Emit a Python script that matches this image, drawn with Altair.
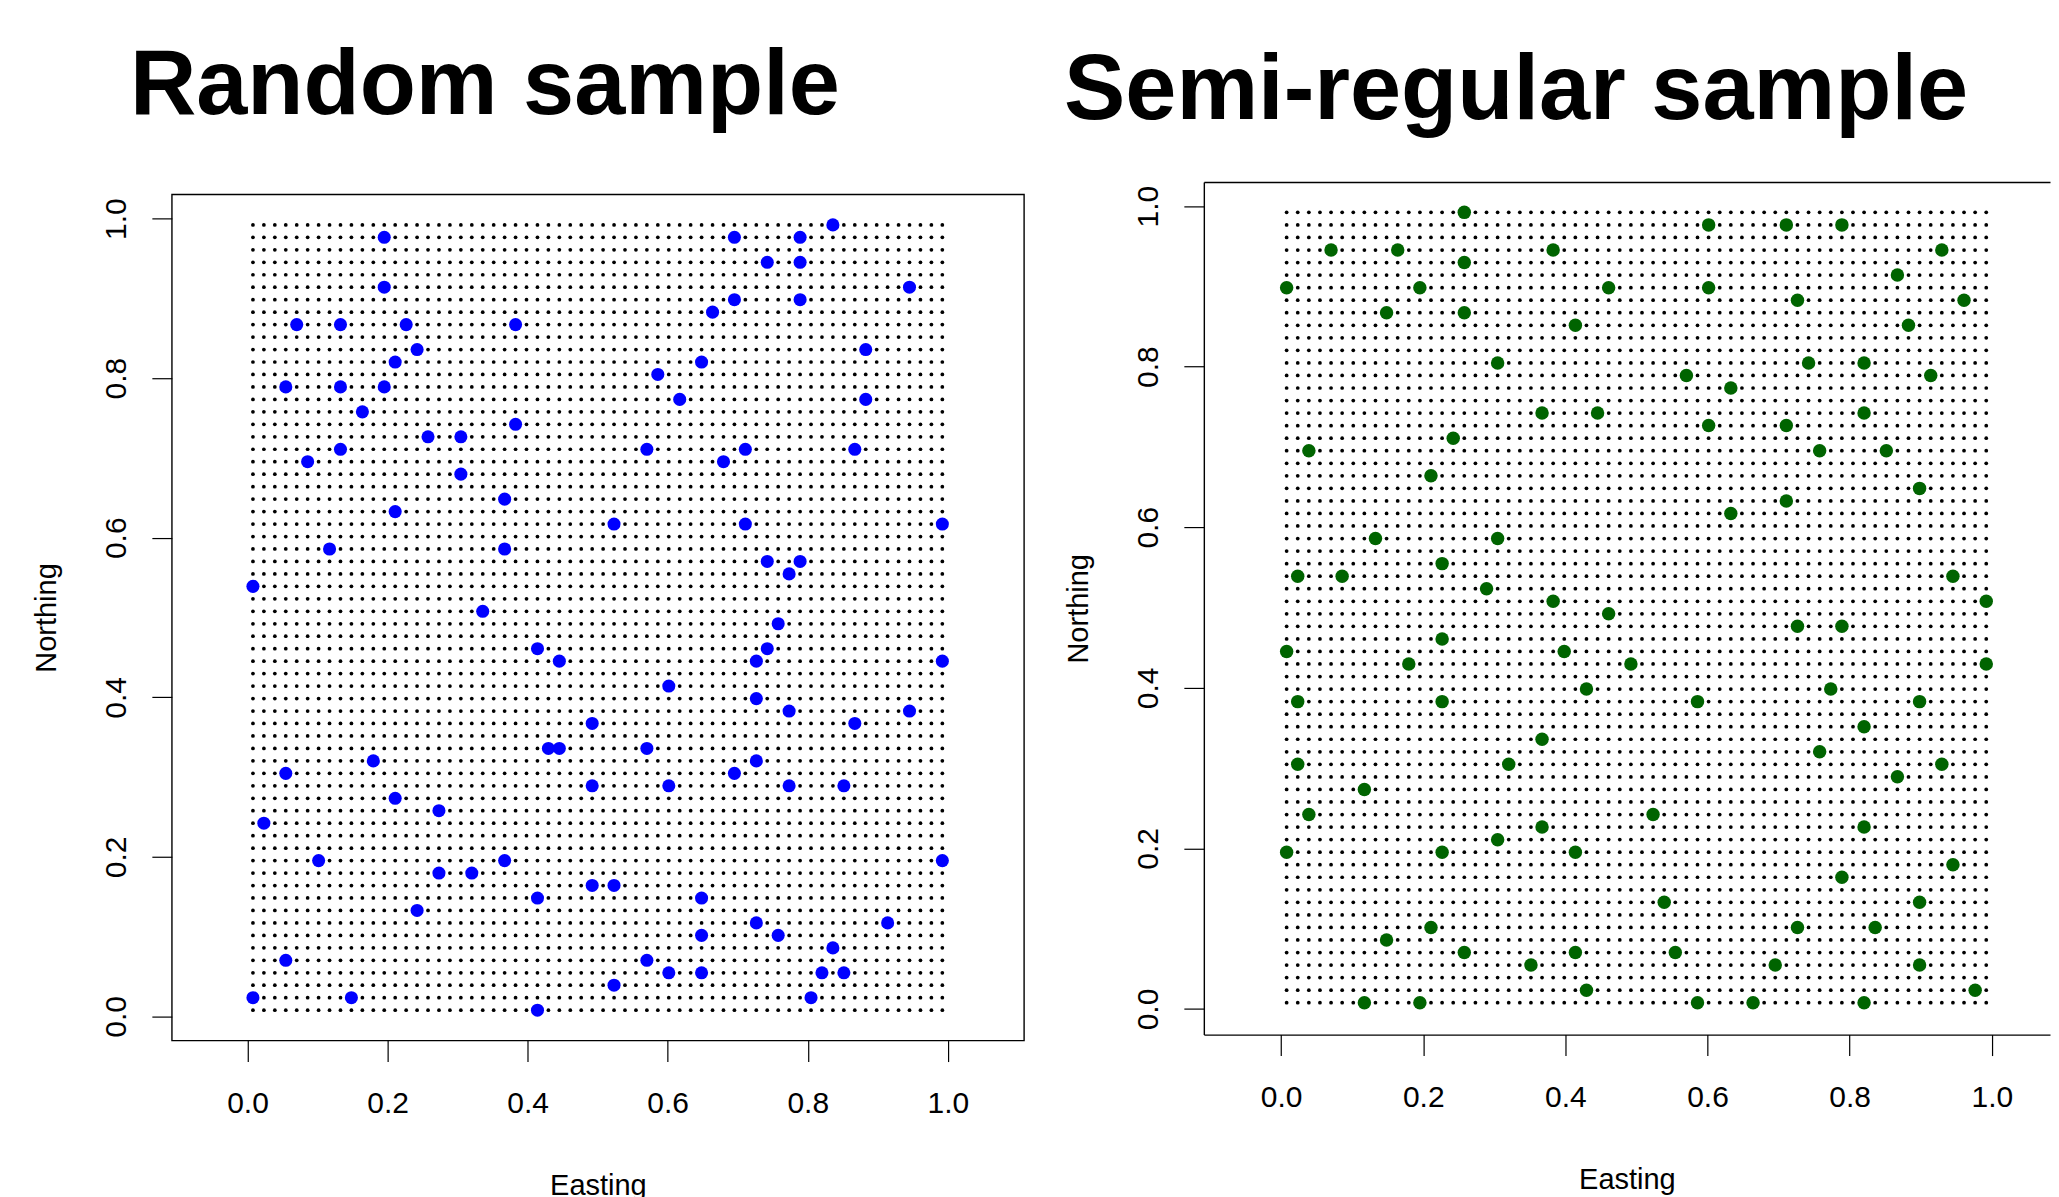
import altair as alt
import numpy as np
import pandas as pd

FONT = "Liberation Sans"

# regular 64 x 64 lattice of cell centres (the candidate population)
GRID_N = 64
grid_centres = (np.arange(GRID_N) + 0.5) / GRID_N

tick_values = [0.0, 0.2, 0.4, 0.6, 0.8, 1.0]

# random sample (blue)
rand_x = [0.1953, 0.1953, 0.0703, 0.1328, 0.2266, 0.3828, 0.2422, 0.2109, 0.5859, 0.0547,
          0.1328, 0.1953, 0.1641, 0.3828, 0.2578, 0.3047, 0.1328, 0.5703, 0.0859, 0.3047,
          0.3672, 0.2109, 0.5234, 0.1172, 0.3672, 0.0078, 0.8359, 0.6953, 0.7891, 0.7422,
          0.7891, 0.9453, 0.6953, 0.7891, 0.6641, 0.8828, 0.6484, 0.6172, 0.8828, 0.7109,
          0.6797, 0.8672, 0.7109, 0.9922, 0.7422, 0.7891, 0.7734, 0.3359, 0.4141, 0.4453,
          0.4922, 0.4297, 0.4453, 0.5703, 0.1797, 0.0547, 0.4922, 0.2109, 0.2734, 0.0234,
          0.1016, 0.2734, 0.3203, 0.3672, 0.4922, 0.5234, 0.4141, 0.2422, 0.0547, 0.5703,
          0.5234, 0.0078, 0.1484, 0.4141, 0.7578, 0.7422, 0.7266, 0.9922, 0.6016, 0.7266,
          0.7734, 0.9453, 0.8672, 0.7266, 0.6953, 0.6016, 0.7734, 0.8516, 0.9922, 0.6484,
          0.7266, 0.9141, 0.6484, 0.7578, 0.8359, 0.6016, 0.6484, 0.8203, 0.8516, 0.8047]
rand_y = [0.9766, 0.9141, 0.8672, 0.8672, 0.8672, 0.8672, 0.8359, 0.8203, 0.8047, 0.7891,
          0.7891, 0.7891, 0.7578, 0.7422, 0.7266, 0.7266, 0.7109, 0.7109, 0.6953, 0.6797,
          0.6484, 0.6328, 0.6172, 0.5859, 0.5859, 0.5391, 0.9922, 0.9766, 0.9766, 0.9453,
          0.9453, 0.9141, 0.8984, 0.8984, 0.8828, 0.8359, 0.8203, 0.7734, 0.7734, 0.7109,
          0.6953, 0.7109, 0.6172, 0.6172, 0.5703, 0.5703, 0.5547, 0.5078, 0.4609, 0.4453,
          0.3672, 0.3359, 0.3359, 0.3359, 0.3203, 0.3047, 0.2891, 0.2734, 0.2578, 0.2422,
          0.1953, 0.1797, 0.1797, 0.1953, 0.1641, 0.1641, 0.1484, 0.1328, 0.0703, 0.0703,
          0.0391, 0.0234, 0.0234, 0.0078, 0.4922, 0.4609, 0.4453, 0.4453, 0.4141, 0.3984,
          0.3828, 0.3828, 0.3672, 0.3203, 0.3047, 0.2891, 0.2891, 0.2891, 0.1953, 0.1484,
          0.1172, 0.1172, 0.1016, 0.1016, 0.0859, 0.0547, 0.0547, 0.0547, 0.0547, 0.0234]

# semi-regular sample (green)
semi_x = [0.2578, 0.6016, 0.0703, 0.1641, 0.3828, 0.2578, 0.0078, 0.1953, 0.4609, 0.6016,
          0.1484, 0.2578, 0.4141, 0.3047, 0.5703, 0.6328, 0.3672, 0.4453, 0.6016, 0.2422,
          0.0391, 0.2109, 0.6328, 0.1328, 0.3047, 0.2266, 0.0234, 0.0859, 0.2891, 0.3828,
          0.4609, 0.2266, 0.0078, 0.3984, 0.1797, 0.4922, 0.4297, 0.0234, 0.2266, 0.5859,
          0.3672, 0.0234, 0.3203, 0.1172, 0.0391, 0.5234, 0.3672, 0.3047, 0.0078, 0.2266,
          0.4141, 0.5391, 0.2109, 0.1484, 0.2578, 0.4141, 0.5547, 0.3516, 0.4297, 0.1172,
          0.1953, 0.5859, 0.6641, 0.7109, 0.7891, 0.9297, 0.8672, 0.7266, 0.9609, 0.8828,
          0.7422, 0.8203, 0.9141, 0.7109, 0.8203, 0.7578, 0.8516, 0.8984, 0.7109, 0.9453,
          0.9922, 0.7266, 0.7891, 0.9922, 0.7734, 0.8984, 0.8203, 0.7578, 0.9297, 0.8672,
          0.8203, 0.9453, 0.7891, 0.8984, 0.7266, 0.8359, 0.6953, 0.8984, 0.9766, 0.8203]
semi_y = [0.9922, 0.9766, 0.9453, 0.9453, 0.9453, 0.9297, 0.8984, 0.8984, 0.8984, 0.8984,
          0.8672, 0.8672, 0.8516, 0.8047, 0.7891, 0.7734, 0.7422, 0.7422, 0.7266, 0.7109,
          0.6953, 0.6641, 0.6172, 0.5859, 0.5859, 0.5547, 0.5391, 0.5391, 0.5234, 0.5078,
          0.4922, 0.4609, 0.4453, 0.4453, 0.4297, 0.4297, 0.3984, 0.3828, 0.3828, 0.3828,
          0.3359, 0.3047, 0.3047, 0.2734, 0.2422, 0.2422, 0.2266, 0.2109, 0.1953, 0.1953,
          0.1953, 0.1328, 0.1016, 0.0859, 0.0703, 0.0703, 0.0703, 0.0547, 0.0234, 0.0078,
          0.0078, 0.0078, 0.0078, 0.9766, 0.9766, 0.9453, 0.9141, 0.8828, 0.8828, 0.8516,
          0.8047, 0.8047, 0.7891, 0.7266, 0.7422, 0.6953, 0.6953, 0.6484, 0.6328, 0.5391,
          0.5078, 0.4766, 0.4766, 0.4297, 0.3984, 0.3828, 0.3516, 0.3203, 0.3047, 0.2891,
          0.2266, 0.1797, 0.1641, 0.1328, 0.1016, 0.1016, 0.0547, 0.0547, 0.0234, 0.0078]

gx, gy = np.meshgrid(grid_centres, grid_centres)
grid_df = pd.DataFrame({"Easting": gx.ravel(), "Northing": gy.ravel()})
rand_df = pd.DataFrame({"Easting": rand_x, "Northing": rand_y})
semi_df = pd.DataFrame({"Easting": semi_x, "Northing": semi_y})


def x_axis(domain=False):
    return alt.Axis(values=tick_values, format=".1f", grid=False, domain=domain,
                    domainColor="black", domainWidth=1.4,
                    tickColor="black", tickSize=21, tickWidth=1.2,
                    labelFont=FONT, labelFontSize=30, labelColor="black",
                    labelBaseline="middle", labelPadding=42, labelFlush=False,
                    labelOverlap=False,
                    title="Easting", titleFont=FONT, titleFontSize=29,
                    titleFontWeight="normal", titleColor="black", titlePadding=53)


def y_axis(domain=False):
    return alt.Axis(values=tick_values, format=".1f", grid=False, domain=domain,
                    domainColor="black", domainWidth=1.4,
                    tickColor="black", tickSize=20, tickWidth=1.2,
                    labelFont=FONT, labelFontSize=30, labelColor="black",
                    labelAngle=270, labelAlign="center", labelBaseline="middle",
                    labelPadding=35, labelFlush=False, labelOverlap=False,
                    title="Northing", titleFont=FONT, titleFontSize=29,
                    titleFontWeight="normal", titleColor="black", titlePadding=40)


def title(text, dx, offset):
    return alt.TitleParams(text, anchor="start", frame="group", dx=dx, offset=offset,
                           font=FONT, fontSize=92, fontWeight="bold", color="black")


# ---------- left panel: random sample ----------
lx = alt.Scale(domain=[-0.108, 1.1088], nice=False, zero=False)
ly = alt.Scale(domain=[-0.0303, 1.0304], nice=False, zero=False)

grid_l = alt.Chart(grid_df).mark_circle(size=14, color="black", opacity=1).encode(
    x=alt.X("Easting:Q", scale=lx, axis=x_axis()),
    y=alt.Y("Northing:Q", scale=ly, axis=y_axis()),
)
samp_l = alt.Chart(rand_df).mark_circle(size=172, color="#0000FF", opacity=1).encode(
    x=alt.X("Easting:Q", scale=lx),
    y=alt.Y("Northing:Q", scale=ly),
)
left = alt.layer(grid_l, samp_l).properties(
    width=853, height=847, title=title("Random sample", -42, 61),
    view=alt.ViewBackground(stroke="black", strokeWidth=1.4),
)

# ---------- right panel: semi-regular sample ----------
# frame of this panel sits 12 px higher than the left one and runs past the page edge
R_H = 841
R_RAISE = 12.4
rx = alt.Scale(domain=[-0.1087, 1.0819], nice=False, zero=False)
ry = alt.Scale(domain=[-0.0319, 1.0300], nice=False, zero=False, range=[R_H, -R_RAISE])

grid_r = alt.Chart(grid_df).mark_circle(size=14, color="black", opacity=1).encode(
    x=alt.X("Easting:Q", scale=rx, axis=x_axis(True)),
    y=alt.Y("Northing:Q", scale=ry, axis=y_axis(True)),
)
samp_r = alt.Chart(semi_df).mark_circle(size=182, color="#006400", opacity=1).encode(
    x=alt.X("Easting:Q", scale=rx,
            axis=alt.Axis(orient="top", labels=False, ticks=False, domain=True,
                          domainColor="black", domainWidth=1.4, grid=False, title=None,
                          offset=R_RAISE)),
    y=alt.Y("Northing:Q", scale=ry),
)
right = alt.layer(grid_r, samp_r).resolve_axis(x="independent").properties(
    width=847, height=R_H, title=title("Semi-regular sample", -140, 44),
    view=alt.ViewBackground(stroke="transparent"),
)

chart = alt.hconcat(left, right, spacing=38).properties(
    padding={"left": 24, "top": 31, "right": 0, "bottom": 0},
    background="white",
).configure_view(stroke="black")

chart.save("out.html", embed_options={"renderer": "svg", "actions": False})
